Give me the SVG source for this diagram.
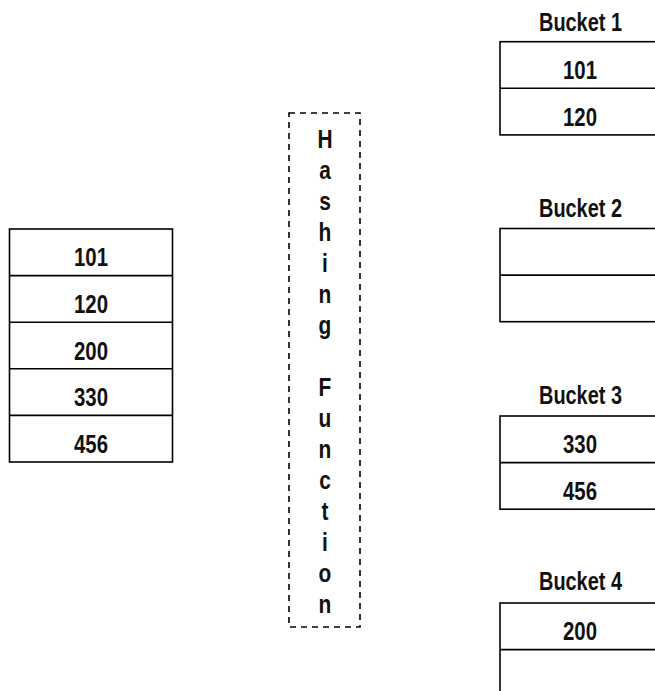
<svg xmlns="http://www.w3.org/2000/svg" width="655" height="691" viewBox="0 0 655 691">
  <style>
    .cell { fill: #ffffff; stroke: #000000; stroke-width: 1.6; }
    .rule { stroke: #000000; stroke-width: 1.6; }
    .lbl { font-family: "Liberation Sans", Arial, sans-serif; font-size: 25.5px; font-weight: bold; fill: #111111; text-anchor: middle; }
    .vt { font-family: "Liberation Sans", Arial, sans-serif; font-size: 25.5px; font-weight: bold; fill: #111111; text-anchor: middle; }
    .dash { fill: none; stroke: #000000; stroke-width: 1.6; stroke-dasharray: 6 5; }
  </style>
  <rect width="655" height="691" fill="#ffffff"/>

  <!-- input keys -->
  <g id="keys">
    <rect class="cell" x="9.5" y="229" width="163" height="233"/>
    <line class="rule" x1="9.5" y1="275.6" x2="172.5" y2="275.6"/>
    <line class="rule" x1="9.5" y1="322.2" x2="172.5" y2="322.2"/>
    <line class="rule" x1="9.5" y1="368.8" x2="172.5" y2="368.8"/>
    <line class="rule" x1="9.5" y1="415.4" x2="172.5" y2="415.4"/>
    <text class="lbl" x="91" y="266.3" textLength="34" lengthAdjust="spacingAndGlyphs">101</text>
    <text class="lbl" x="91" y="312.9" textLength="34" lengthAdjust="spacingAndGlyphs">120</text>
    <text class="lbl" x="91" y="359.5" textLength="34" lengthAdjust="spacingAndGlyphs">200</text>
    <text class="lbl" x="91" y="406.1" textLength="34" lengthAdjust="spacingAndGlyphs">330</text>
    <text class="lbl" x="91" y="452.7" textLength="34" lengthAdjust="spacingAndGlyphs">456</text>
  </g>

  <!-- hashing function box, one letter per line -->
  <g id="hashing-function">
    <rect class="dash" x="289" y="113" width="71" height="514"/>
    <g transform="translate(325 0) scale(0.82 1)">
      <text class="vt" x="0" y="148.5">H</text>
      <text class="vt" x="0" y="179.5">a</text>
      <text class="vt" x="0" y="210.5">s</text>
      <text class="vt" x="0" y="241.5">h</text>
      <text class="vt" x="0" y="272.5">i</text>
      <text class="vt" x="0" y="303.5">n</text>
      <text class="vt" x="0" y="334.5">g</text>
      <text class="vt" x="0" y="396.5">F</text>
      <text class="vt" x="0" y="427.5">u</text>
      <text class="vt" x="0" y="458.5">n</text>
      <text class="vt" x="0" y="489.5">c</text>
      <text class="vt" x="0" y="520.5">t</text>
      <text class="vt" x="0" y="551.5">i</text>
      <text class="vt" x="0" y="582.5">o</text>
      <text class="vt" x="0" y="613.5">n</text>
    </g>
  </g>

  <!-- buckets -->
  <g id="bucket-1">
    <text class="lbl" x="580.5" y="30.5" textLength="83" lengthAdjust="spacingAndGlyphs">Bucket 1</text>
    <rect class="cell" x="500" y="41.7" width="163" height="93.2"/>
    <line class="rule" x1="500" y1="88.3" x2="663" y2="88.3"/>
    <text class="lbl" x="580" y="79" textLength="34" lengthAdjust="spacingAndGlyphs">101</text>
    <text class="lbl" x="580" y="125.6" textLength="34" lengthAdjust="spacingAndGlyphs">120</text>
  </g>

  <g id="bucket-2">
    <text class="lbl" x="580.5" y="217" textLength="83" lengthAdjust="spacingAndGlyphs">Bucket 2</text>
    <rect class="cell" x="500" y="228.5" width="163" height="93.2"/>
    <line class="rule" x1="500" y1="275.1" x2="663" y2="275.1"/>
  </g>

  <g id="bucket-3">
    <text class="lbl" x="580.5" y="403.5" textLength="83" lengthAdjust="spacingAndGlyphs">Bucket 3</text>
    <rect class="cell" x="500" y="416" width="163" height="93.2"/>
    <line class="rule" x1="500" y1="462.6" x2="663" y2="462.6"/>
    <text class="lbl" x="580" y="453.3" textLength="34" lengthAdjust="spacingAndGlyphs">330</text>
    <text class="lbl" x="580" y="499.9" textLength="34" lengthAdjust="spacingAndGlyphs">456</text>
  </g>

  <g id="bucket-4">
    <text class="lbl" x="580.5" y="590" textLength="83" lengthAdjust="spacingAndGlyphs">Bucket 4</text>
    <rect class="cell" x="500" y="603" width="163" height="93.2"/>
    <line class="rule" x1="500" y1="649.6" x2="663" y2="649.6"/>
    <text class="lbl" x="580" y="640.3" textLength="34" lengthAdjust="spacingAndGlyphs">200</text>
  </g>
</svg>
